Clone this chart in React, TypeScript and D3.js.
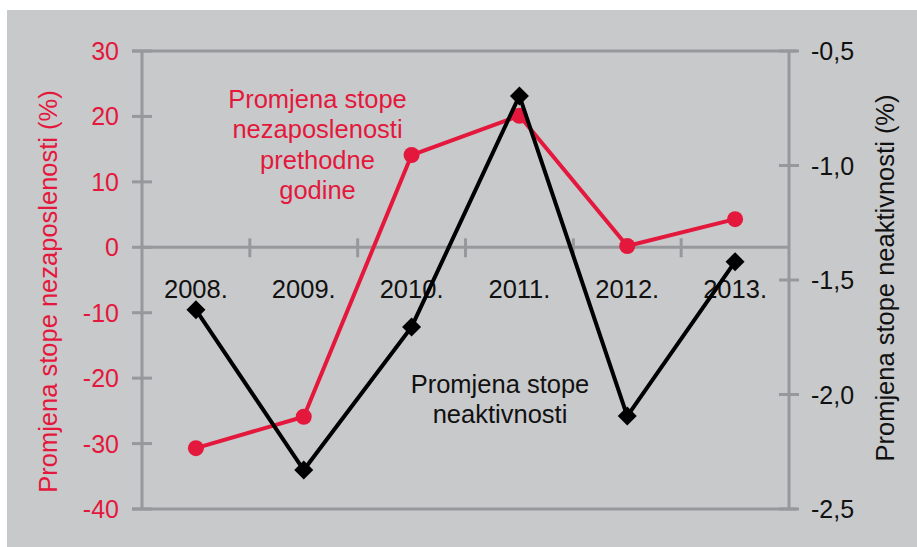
import React from "react";
import * as d3 from "d3";

const categories = ["2008.", "2009.", "2010.", "2011.", "2012.", "2013."];
const unemploymentChange = [-30.7, -25.9, 14.1, 20.1, 0.2, 4.3];
const inactivityChange = [-1.63, -2.33, -1.705, -0.696, -2.094, -1.42];
const leftTicks = [-40, -30, -20, -10, 0, 10, 20, 30];
const rightTicks = [-2.5, -2.0, -1.5, -1.0, -0.5];
const leftTitle = "Promjena stope nezaposlenosti (%)";
const rightTitle = "Promjena stope neaktivnosti (%)";
const redNote = ["Promjena stope", "nezaposlenosti", "prethodne", "godine"];
const blackNote = ["Promjena stope", "neaktivnosti"];

const W = 917;
const H = 547;
const RED = "#e3183c";
const AXIS = "#97989b";
const BG = "#c8c9cb";
const FONT = "'Liberation Sans', Arial, Helvetica, sans-serif";

export default function App() {
  const left = 142, right = 789, top = 51, bottom = 509;
  const x = d3.scaleBand<string>().domain(categories).range([left, right]);
  const cx = (c: string) => (x(c) as number) + x.bandwidth() / 2;
  const yL = d3.scaleLinear().domain([-40, 30]).range([bottom, top]);
  const yR = d3.scaleLinear().domain([-2.5, -0.5]).range([bottom, top]);
  const fmtR = (v: number) => d3.format(".1f")(v).replace(".", ",").replace("−", "-");

  const redLine = d3
    .line<number>()
    .x((_, i) => cx(categories[i]))
    .y((d) => yL(d))(unemploymentChange) as string;
  const blackLine = d3
    .line<number>()
    .x((_, i) => cx(categories[i]))
    .y((d) => yR(d))(inactivityChange) as string;

  const y0 = yL(0);
  const boundaries = categories.slice(1).map((c) => x(c) as number);

  return (
    <svg
      width={W}
      height={H}
      style={{ position: "absolute", left: 0, top: 0 }}
      fontFamily={FONT}
    >
      <rect x={0} y={0} width={W} height={H} fill="#ffffff" />
      <rect x={7} y={10} width={W - 7} height={H - 10} fill={BG} />

      {/* frame lines */}
      <line x1={132} x2={797} y1={top} y2={top} stroke={AXIS} strokeWidth={3} />
      <line x1={132} x2={797} y1={bottom} y2={bottom} stroke={AXIS} strokeWidth={3} />
      <line x1={left} x2={left} y1={top} y2={bottom} stroke={AXIS} strokeWidth={3} />
      <line x1={right} x2={right} y1={top} y2={bottom} stroke={AXIS} strokeWidth={3} />

      {/* left ticks */}
      {leftTicks.map((t) => (
        <g key={"l" + t}>
          <line x1={132} x2={152} y1={yL(t)} y2={yL(t)} stroke={AXIS} strokeWidth={3} />
          <text
            x={119}
            y={yL(t)}
            dy="0.36em"
            textAnchor="end"
            fontSize={25}
            fill={RED}
          >
            {t}
          </text>
        </g>
      ))}

      {/* right ticks */}
      {rightTicks.map((t) => (
        <g key={"r" + t}>
          <line x1={779} x2={799} y1={yR(t)} y2={yR(t)} stroke={AXIS} strokeWidth={3} />
          <text x={811} y={yR(t)} dy="0.36em" fontSize={25} fill="#111">
            {fmtR(t)}
          </text>
        </g>
      ))}

      {/* x axis at zero */}
      <line x1={left} x2={right} y1={y0} y2={y0} stroke={AXIS} strokeWidth={3} />
      {boundaries.map((b, i) => (
        <line key={"b" + i} x1={b} x2={b} y1={y0 - 9} y2={y0 + 10} stroke={AXIS} strokeWidth={3} />
      ))}
      {categories.map((c) => (
        <text key={c} x={cx(c)} y={298} textAnchor="middle" fontSize={25.5} fill="#111">
          {c}
        </text>
      ))}

      {/* axis titles */}
      <text
        transform={`translate(56.5, 291.5) rotate(-90)`}
        textAnchor="middle"
        fontSize={25.5}
        fill={RED}
      >
        {leftTitle}
      </text>
      <text
        transform={`translate(894, 278) rotate(-90)`}
        textAnchor="middle"
        fontSize={25.5}
        fill="#111"
      >
        {rightTitle}
      </text>

      {/* red series */}
      <path d={redLine} fill="none" stroke={RED} strokeWidth={4} strokeLinejoin="round" />
      {unemploymentChange.map((v, i) => (
        <circle key={"c" + i} cx={cx(categories[i])} cy={yL(v)} r={8} fill={RED} />
      ))}

      {/* black series */}
      <path d={blackLine} fill="none" stroke="#000" strokeWidth={4} strokeLinejoin="miter" />
      {inactivityChange.map((v, i) => {
        const px = cx(categories[i]);
        const py = yR(v);
        const s = 9.5;
        return (
          <path
            key={"d" + i}
            d={`M${px},${py - s}L${px + s},${py}L${px},${py + s}L${px - s},${py}Z`}
            fill="#000"
          />
        );
      })}

      {/* annotations */}
      {redNote.map((t, i) => (
        <text key={"rn" + i} x={317.5} y={108 + i * 30.3} textAnchor="middle" fontSize={25.5} fill={RED}>
          {t}
        </text>
      ))}
      {blackNote.map((t, i) => (
        <text key={"bn" + i} x={500} y={393 + i * 30} textAnchor="middle" fontSize={25.5} fill="#111">
          {t}
        </text>
      ))}
    </svg>
  );
}
